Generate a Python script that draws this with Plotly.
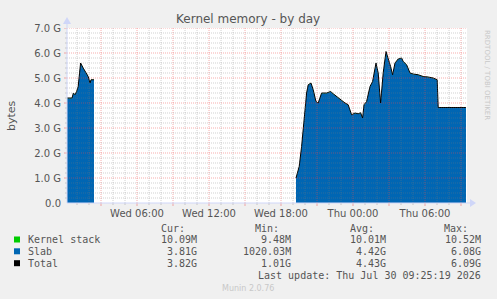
import plotly.graph_objects as go
import pandas as pd

# ---------------- data (values in G) ----------------
seg1_times = ["2026-07-29 00:08", "2026-07-29 00:35", "2026-07-29 00:42", "2026-07-29 00:50",
              "2026-07-29 00:58", "2026-07-29 01:06", "2026-07-29 01:11", "2026-07-29 01:18",
              "2026-07-29 01:31", "2026-07-29 01:45", "2026-07-29 01:56", "2026-07-29 02:05",
              "2026-07-29 02:10", "2026-07-29 02:25"]
seg1_slab = [4.19, 4.19, 4.39, 4.32, 4.45, 4.65, 5.05, 5.59, 5.39, 5.19, 5.05, 4.79, 4.92, 4.92]
seg1_kstack = [0.0099, 0.0099, 0.0100, 0.0100, 0.0101, 0.0101, 0.0102, 0.0103, 0.0102, 0.0101,
               0.0101, 0.0100, 0.0100, 0.0100]

seg2_times = ["2026-07-29 19:15", "2026-07-29 19:31", "2026-07-29 19:43", "2026-07-29 19:55",
              "2026-07-29 20:08", "2026-07-29 20:16", "2026-07-29 20:30", "2026-07-29 20:41",
              "2026-07-29 20:55", "2026-07-29 21:06", "2026-07-29 21:23", "2026-07-29 21:48",
              "2026-07-29 22:08", "2026-07-29 22:21", "2026-07-29 22:46", "2026-07-29 23:03",
              "2026-07-29 23:20", "2026-07-29 23:36", "2026-07-29 23:53", "2026-07-30 00:10",
              "2026-07-30 00:26", "2026-07-30 00:38", "2026-07-30 00:48", "2026-07-30 00:55",
              "2026-07-30 01:08", "2026-07-30 01:25", "2026-07-30 01:38", "2026-07-30 01:55",
              "2026-07-30 02:06", "2026-07-30 02:18", "2026-07-30 02:31", "2026-07-30 02:45",
              "2026-07-30 02:56", "2026-07-30 03:08", "2026-07-30 03:18", "2026-07-30 03:30",
              "2026-07-30 03:46", "2026-07-30 04:03", "2026-07-30 04:11", "2026-07-30 04:28",
              "2026-07-30 04:45", "2026-07-30 05:01", "2026-07-30 05:26", "2026-07-30 05:51",
              "2026-07-30 06:16", "2026-07-30 06:41", "2026-07-30 07:01", "2026-07-30 07:06",
              "2026-07-30 09:25"]
seg2_slab = [0.99, 1.45, 2.25, 3.32, 4.39, 4.72, 4.79, 4.52, 4.05, 3.99, 4.39, 4.39,
             4.45, 4.36, 4.19, 4.09, 3.99, 3.92, 3.52, 3.59, 3.56, 3.60, 3.39, 3.92,
             4.05, 4.65, 4.85, 5.59, 5.19, 3.99, 5.19, 6.05, 5.79, 5.45, 5.12, 5.59,
             5.75, 5.79, 5.65, 5.52, 5.19, 5.15, 5.12, 5.05, 5.03, 4.99, 4.92, 3.81,
             3.81]
seg2_kstack = [0.0095, 0.0096, 0.0098, 0.0099, 0.0100, 0.0101, 0.0101, 0.0100, 0.0100, 0.0100,
               0.0100, 0.0100, 0.0100, 0.0100, 0.0100, 0.0100, 0.0099, 0.0099, 0.0099, 0.0099,
               0.0099, 0.0099, 0.0099, 0.0100, 0.0100, 0.0101, 0.0102, 0.0104, 0.0103, 0.0100,
               0.0103, 0.0105, 0.0104, 0.0103, 0.0102, 0.0103, 0.0103, 0.0103, 0.0102, 0.0102,
               0.0101, 0.0101, 0.0101, 0.0101, 0.0101, 0.0101, 0.0101, 0.0101, 0.0101]

x_range = ["2026-07-29 00:10", "2026-07-30 09:30"]
y_tickvals = [0, 1, 2, 3, 4, 5, 6, 7]
y_ticktext = ["0.0", "1.0 G", "2.0 G", "3.0 G", "4.0 G", "5.0 G", "6.0 G", "7.0 G"]

legend_names = ["Kernel stack", "Slab", "Total"]
legend_colors = ["#00cc00", "#0066b3", "#000000"]
stat_headers = ["Cur:", "Min:", "Avg:", "Max:"]
stat_rows = [
    ["10.09M", "9.48M", "10.01M", "10.52M"],
    ["3.81G", "1020.03M", "4.42G", "6.08G"],
    ["3.82G", "1.01G", "4.43G", "6.09G"],
]
last_update = "Last update: Thu Jul 30 09:25:19 2026"

W, H = 497, 299
PL, PR, PT, PB = 67, 467, 28, 203


def pxx(x):
    return (x - PL) / (PR - PL)


def pxy(y):
    return (PB - y) / (PB - PT)


fig = go.Figure()
for tms, sl, ks in [(seg1_times, seg1_slab, seg1_kstack), (seg2_times, seg2_slab, seg2_kstack)]:
    tt = pd.to_datetime(tms)
    tot = [s + k for s, k in zip(sl, ks)]
    fig.add_trace(go.Scatter(x=tt, y=sl, mode="lines", line=dict(width=0, color="#0066b3"),
                             fill="tozeroy", fillcolor="#0066b3",
                             hoverinfo="skip", showlegend=False))
    fig.add_trace(go.Scatter(x=tt, y=tot, mode="lines", line=dict(width=0, color="#00cc00"),
                             fill="tonexty", fillcolor="#00cc00",
                             hoverinfo="skip", showlegend=False))
    fig.add_trace(go.Scatter(x=tt, y=tot, mode="lines", line=dict(width=1, color="#000000"),
                             hoverinfo="skip", showlegend=False))

shapes = []
minor_col = "rgba(120,120,120,0.35)"
major_col = "rgba(235,70,70,0.45)"
t0 = pd.Timestamp(x_range[0]).ceil("h")
t1 = pd.Timestamp(x_range[1])
t = t0
while t <= t1:
    major = (t.hour % 3 == 0)
    col = major_col if major else minor_col
    shapes.append(dict(type="line", xref="x", yref="paper", x0=t, x1=t, y0=0, y1=1,
                       line=dict(color=col, width=1, dash="1px,1px"), layer="above"))
    shapes.append(dict(type="line", xref="x", yref="paper", x0=t, x1=t, y0=pxy(203),
                       y1=pxy(206 if major else 205),
                       line=dict(color=col, width=1), layer="above"))
    t += pd.Timedelta(hours=1)

for i in range(1, 36):
    v = i * 0.2
    major = (i % 5 == 0)
    col = major_col if major else minor_col
    shapes.append(dict(type="line", xref="paper", yref="y", x0=0, x1=1, y0=v, y1=v,
                       line=dict(color=col, width=1, dash="1px,1px"), layer="above"))
    shapes.append(dict(type="line", xref="paper", yref="y", x0=pxx(64 if major else 65), x1=pxx(67),
                       y0=v, y1=v, line=dict(color=col, width=1), layer="above"))

axis_col = "#cfd6f8"
shapes.append(dict(type="line", xref="paper", yref="paper", x0=0, x1=pxx(472), y0=0, y1=0,
                   line=dict(color=axis_col, width=1), layer="above"))
shapes.append(dict(type="line", xref="paper", yref="paper", x0=0, x1=0, y0=0, y1=pxy(22),
                   line=dict(color=axis_col, width=1), layer="above"))
shapes.append(dict(type="path", xref="paper", yref="paper",
                   path=f"M {pxx(470)},{pxy(199)} L {pxx(476)},{pxy(203)} L {pxx(470)},{pxy(207)} Z",
                   fillcolor=axis_col, line=dict(width=0), layer="above"))
shapes.append(dict(type="path", xref="paper", yref="paper",
                   path=f"M {pxx(63)},{pxy(24)} L {pxx(67)},{pxy(17)} L {pxx(71)},{pxy(24)} Z",
                   fillcolor=axis_col, line=dict(width=0), layer="above"))

row_y = [239.5, 251.3, 263.2]
for yy, c in zip(row_y, legend_colors):
    shapes.append(dict(type="rect", xref="paper", yref="paper", x0=pxx(14), x1=pxx(20),
                       y0=pxy(yy + 3), y1=pxy(yy - 3), fillcolor=c, line=dict(width=0)))

ann = []
mono = "DejaVu Sans Mono"
txtc = "#555555"
ann.append(dict(text="Kernel memory - by day", x=pxx(248), y=pxy(19), xref="paper", yref="paper",
                showarrow=False, font=dict(family="DejaVu Sans", size=12, color=txtc),
                xanchor="center", yanchor="middle"))
ann.append(dict(text="bytes", x=pxx(11), y=pxy(115), xref="paper", yref="paper", showarrow=False,
                textangle=-90, font=dict(family="DejaVu Sans", size=11, color=txtc),
                xanchor="center", yanchor="middle"))
ann.append(dict(text="RRDTOOL / TOBI OETIKER", x=pxx(487), y=pxy(28), xref="paper", yref="paper",
                showarrow=False, textangle=90, font=dict(family="DejaVu Sans", size=7, color="#c8c8c8"),
                xanchor="center", yanchor="top"))

hdr_right = [187, 281, 376, 470]
val_right = [199, 293, 388, 483]
for h, xr in zip(stat_headers, hdr_right):
    ann.append(dict(text=h, x=pxx(xr), y=pxy(228.5), xref="paper", yref="paper", showarrow=False,
                    font=dict(family=mono, size=10, color=txtc), xanchor="right", yanchor="middle"))
for name, yy, vals in zip(legend_names, row_y, stat_rows):
    ann.append(dict(text=name, x=pxx(25.5), y=pxy(yy), xref="paper", yref="paper", showarrow=False,
                    font=dict(family=mono, size=10, color=txtc), xanchor="left", yanchor="middle"))
    for v, xr in zip(vals, val_right):
        ann.append(dict(text=v, x=pxx(xr), y=pxy(yy), xref="paper", yref="paper", showarrow=False,
                        font=dict(family=mono, size=10, color=txtc), xanchor="right", yanchor="middle"))
ann.append(dict(text=last_update, x=pxx(483), y=pxy(275.7), xref="paper", yref="paper", showarrow=False,
                font=dict(family=mono, size=10, color=txtc), xanchor="right", yanchor="middle"))
ann.append(dict(text="Munin 2.0.76", x=pxx(248), y=pxy(288), xref="paper", yref="paper", showarrow=False,
                font=dict(family="DejaVu Sans", size=8, color="#c8c8c8"), xanchor="center", yanchor="middle"))

fig.update_layout(
    width=W, height=H,
    margin=dict(l=PL, r=W - PR, t=PT, b=H - PB, pad=0),
    paper_bgcolor="#f0f0f0", plot_bgcolor="#ffffff",
    shapes=shapes, annotations=ann, showlegend=False,
    xaxis=dict(type="date", range=x_range, showgrid=False, zeroline=False, showline=False,
               tick0="2026-07-29 00:00", dtick=6 * 3600 * 1000, tickformat="%a %H:%M",
               ticks="", ticklabelstandoff=3,
               tickfont=dict(family="DejaVu Sans", size=10, color=txtc), fixedrange=True),
    yaxis=dict(range=[0, 7], tickvals=y_tickvals, ticktext=y_ticktext, showgrid=False,
               zeroline=False, showline=False, ticks="", ticklabelstandoff=5,
               tickfont=dict(family="DejaVu Sans", size=10, color=txtc), fixedrange=True),
)

fig.write_html("out.html")
